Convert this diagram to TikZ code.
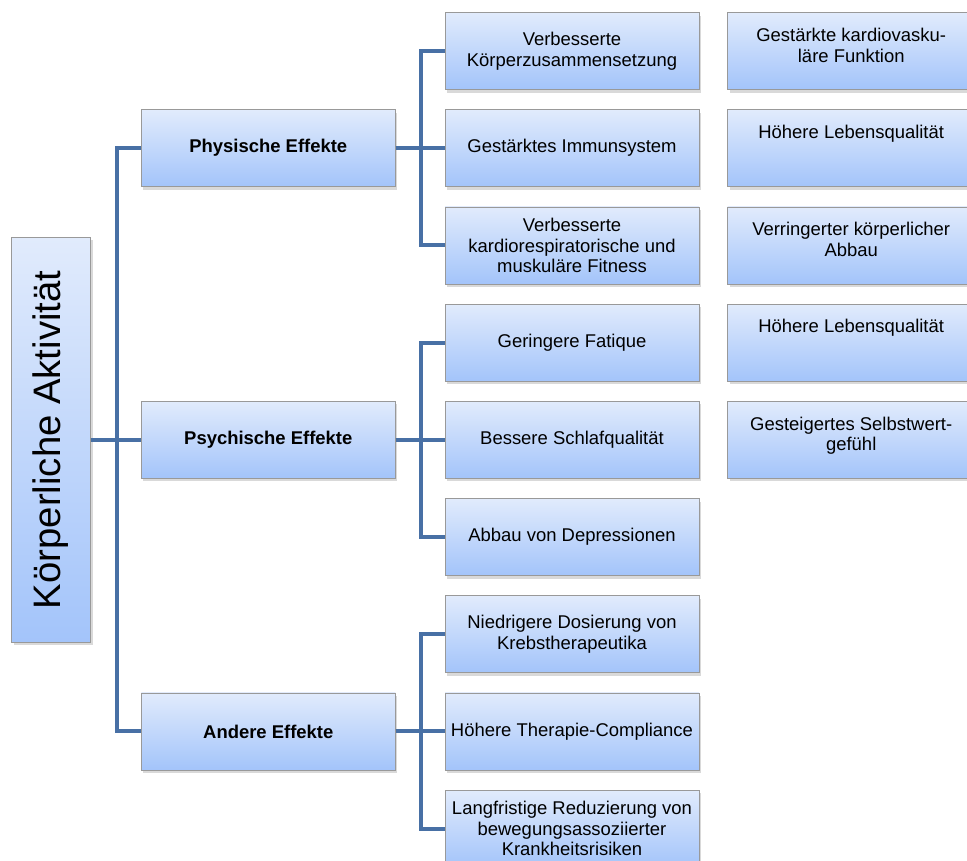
\documentclass[tikz,border=0pt]{standalone}
\usepackage{fontspec}
\setmainfont{Liberation Sans}
\usepackage{tikz}
\usetikzlibrary{positioning, shadows}
\definecolor{boxtop}{RGB}{225,235,252}
\definecolor{boxbot}{RGB}{163,196,250}
\definecolor{conn}{RGB}{72,112,165}
\newcommand{\toptext}[1]{\parbox[c][0.92cm][t]{4.8cm}{\centering #1}}
\tikzset{
  box/.style = {draw=gray!80, thin, top color=boxtop, bottom color=boxbot,
    align=center, inner sep=2pt, minimum width=5.08cm, minimum height=1.54cm,
    font=\fontsize{10.5}{11.8}\selectfont,
    drop shadow={opacity=0.3, shadow xshift=0.04cm, shadow yshift=-0.06cm}},
  hbox/.style = {box, font=\fontsize{10.5}{11.8}\selectfont\bfseries},
  sbox/.style = {box, minimum width=4.92cm},
  rbox/.style = {box, minimum width=1.58cm, minimum height=8.1cm,
    font=\fontsize{21.8}{24}\selectfont},
  branch/.style = {draw=conn, line width=0.08cm}
}
\begin{document}
\begin{tikzpicture}[node distance=0.39cm]
\useasboundingbox (0,0) rectangle (19.34,-17.2);
\node [box] (v1) at (11.44,-1.02) {Verbesserte\\Körperzusammensetzung};
\node [box, below=of v1] (gi) {Gestärktes Immunsystem};
\node [box, below=of gi] (kf) {Verbesserte\\kardiorespiratorische und\\muskuläre Fitness};
\node [box, below=of kf] (gf) {Geringere Fatique};
\node [box, below=of gf] (bs) {Bessere Schlafqualität};
\node [box, below=of bs] (ad) {Abbau von Depressionen};
\node [box, below=of ad] (nd) {Niedrigere Dosierung von\\Krebstherapeutika};
\node [box, below=of nd] (ht) {Höhere Therapie-Compliance};
\node [box, below=of ht] (lr) {Langfristige Reduzierung von\\bewegungsassoziierter\\Krankheitsrisiken};
\node [hbox, left=0.98cm of gi] (phy) {Physische Effekte};
\node [hbox, left=0.98cm of bs] (psy) {Psychische Effekte};
\node [hbox, left=0.98cm of ht] (and) {Andere Effekte};
\node [rbox, left=1cm of psy] (root) {\rotatebox{90}{Körperliche Aktivität}};
\node [sbox, right=0.56cm of v1] (s1) {\toptext{Gestärkte kardiovasku-\\läre Funktion}};
\node [sbox, right=0.56cm of gi] (s2) {\toptext{Höhere Lebensqualität}};
\node [sbox, right=0.56cm of kf] (s3) {\toptext{Verringerter körperlicher\\Abbau}};
\node [sbox, right=0.56cm of gf] (s4) {\toptext{Höhere Lebensqualität}};
\node [sbox, right=0.56cm of bs] (s5) {\toptext{Gesteigertes Selbstwert-\\gefühl}};
\draw [branch] (root) -- (psy);
\draw [branch] (root.east) -- ++(0.52,0) |- (phy);
\draw [branch] (root.east) -- ++(0.52,0) |- (and);
\draw [branch] (phy) -- (gi);
\draw [branch] (phy.east) -- ++(0.5,0) |- (v1);
\draw [branch] (phy.east) -- ++(0.5,0) |- (kf);
\draw [branch] (psy) -- (bs);
\draw [branch] (psy.east) -- ++(0.5,0) |- (gf);
\draw [branch] (psy.east) -- ++(0.5,0) |- (ad);
\draw [branch] (and) -- (ht);
\draw [branch] (and.east) -- ++(0.5,0) |- (nd);
\draw [branch] (and.east) -- ++(0.5,0) |- (lr);
\end{tikzpicture}
\end{document}
